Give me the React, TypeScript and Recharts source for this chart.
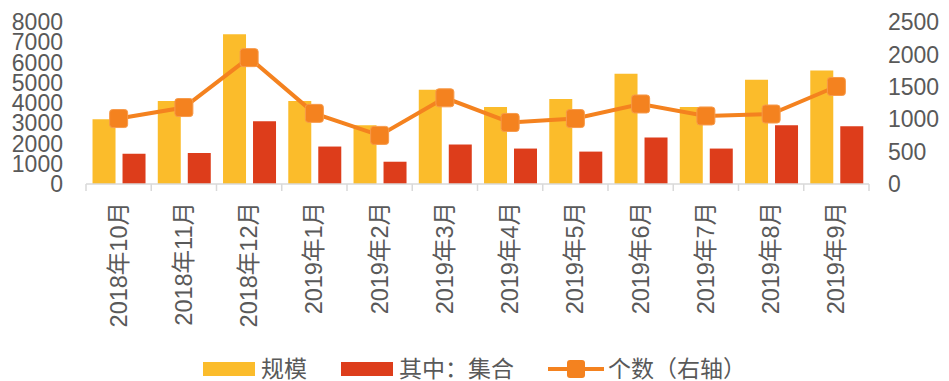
import React from "react";
import {
  ComposedChart,
  Bar,
  Line,
  XAxis,
  YAxis,
  Legend,
} from "recharts";

const months = [
  "2018年10月",
  "2018年11月",
  "2018年12月",
  "2019年1月",
  "2019年2月",
  "2019年3月",
  "2019年4月",
  "2019年5月",
  "2019年6月",
  "2019年7月",
  "2019年8月",
  "2019年9月",
];

// 规模 (left axis)
const scale = [3200, 4100, 7400, 4100, 2900, 4650, 3800, 4200, 5450, 3800, 5150, 5600];
// 其中：集合 (left axis)
const collective = [1500, 1530, 3100, 1850, 1100, 1950, 1750, 1600, 2300, 1750, 2900, 2850];
// 个数 (right axis)
const counts = [1010, 1180, 1950, 1090, 750, 1330, 950, 1010, 1235, 1050, 1080, 1505];

const leftTicks = [0, 1000, 2000, 3000, 4000, 5000, 6000, 7000, 8000];
const rightTicks = [0, 500, 1000, 1500, 2000, 2500];

const YELLOW = "#FBBC2B";
const RED = "#DD3D1B";
const ORANGE = "#F4821F";
const TEXT = "#595959";
const GRID = "#D9D9D9";
const FONT = '"Liberation Sans", Arial, "Noto Sans CJK SC", sans-serif';

const data = months.map((m, i) => ({
  month: m,
  scale: scale[i],
  collective: collective[i],
  count: counts[i],
}));

const MonthTick = (props: any) => {
  const { x, y, payload, index } = props;
  const half = payload?.offset ?? 32.6;
  const last = index === months.length - 1;
  return (
    <g>
      <line x1={x - half} x2={x - half} y1={y} y2={y + 7} stroke={GRID} strokeWidth={1.5} />
      {last && (
        <line x1={x + half} x2={x + half} y1={y} y2={y + 7} stroke={GRID} strokeWidth={1.5} />
      )}
      <text
        x={x}
        y={y + 18}
        transform={`rotate(-90, ${x}, ${y + 18})`}
        textAnchor="end"
        dominantBaseline="central"
        fill={TEXT}
        fontSize={23.5}
        fontFamily={FONT}
      >
        {payload.value}
      </text>
    </g>
  );
};

const SquareDot = (props: any) => {
  const { cx, cy, index } = props;
  if (cx == null || cy == null) return <g key={`d-${index}`} />;
  return (
    <rect
      key={`d-${index}`}
      x={cx - 9}
      y={cy - 9}
      width={18}
      height={18}
      rx={3}
      fill={ORANGE}
      stroke="#F79A4A"
      strokeWidth={1}
    />
  );
};

const LegendBox = () => (
  <div
    style={{
      height: 24,
      display: "flex",
      justifyContent: "center",
      alignItems: "center",
      fontFamily: FONT,
      fontSize: 23,
      color: TEXT,
      lineHeight: "24px",
    }}
  >
    <span style={{ display: "inline-block", width: 52, height: 14, background: YELLOW, marginRight: 6 }} />
    <span style={{ marginRight: 34 }}>规模</span>
    <span style={{ display: "inline-block", width: 52, height: 14, background: RED, marginRight: 6 }} />
    <span style={{ marginRight: 34 }}>其中：集合</span>
    <svg width={56} height={20} style={{ marginRight: 4 }}>
      <line x1={0} x2={56} y1={10} y2={10} stroke={ORANGE} strokeWidth={4} />
      <rect x={19} y={1} width={18} height={18} rx={3} fill={ORANGE} />
    </svg>
    <span>个数（右轴）</span>
  </div>
);

export default function App() {
  return (
    <div style={{ position: "absolute", left: 0, top: 0, background: "#fff" }}>
      <ComposedChart
        width={949}
        height={381}
        data={data}
        margin={{ top: 22, right: 0, bottom: 0, left: 0 }}
        barCategoryGap="10%"
        barGap={7}
      >
        <XAxis
          dataKey="month"
          height={173}
          interval={0}
          tickSize={0}
          tickMargin={0}
          axisLine={{ stroke: GRID, strokeWidth: 1.5 }}
          tickLine={false}
          tick={<MonthTick />}
        />
        <YAxis
          yAxisId="left"
          width={86}
          domain={[0, 8000]}
          ticks={leftTicks}
          interval={0}
          axisLine={false}
          tickLine={false}
          tickSize={0}
          tickMargin={23}
          tick={{ fill: TEXT, fontSize: 23, fontFamily: FONT }}
        />
        <YAxis
          yAxisId="right"
          orientation="right"
          width={80}
          domain={[0, 2500]}
          ticks={rightTicks}
          interval={0}
          axisLine={false}
          tickLine={false}
          tickSize={0}
          tickMargin={19}
          tick={{ fill: TEXT, fontSize: 23, fontFamily: FONT, textAnchor: "start" }}
        />
        <Bar yAxisId="left" dataKey="scale" name="规模" fill={YELLOW} isAnimationActive={false} />
        <Bar yAxisId="left" dataKey="collective" name="其中：集合" fill={RED} isAnimationActive={false} />
        <Line
          yAxisId="right"
          dataKey="count"
          name="个数（右轴）"
          stroke={ORANGE}
          strokeWidth={4}
          dot={<SquareDot />}
          activeDot={false}
          isAnimationActive={false}
        />
        <Legend verticalAlign="bottom" content={<LegendBox />} />
      </ComposedChart>
    </div>
  );
}
